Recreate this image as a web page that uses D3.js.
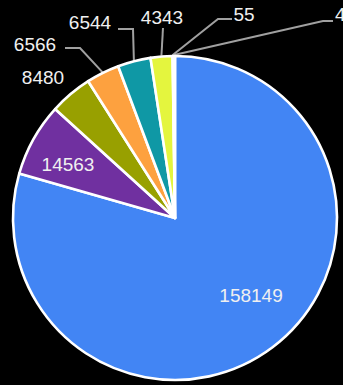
<!DOCTYPE html>
<html>
<head>
<meta charset="utf-8">
<script src="https://cdn.jsdelivr.net/npm/d3@7/dist/d3.min.js"></script>
<style>
  html, body { margin: 0; padding: 0; background: #000; overflow: hidden; }
  svg { display: block; }
</style>
</head>
<body>
<svg id="chart" width="343" height="385"></svg>
<script>
// Slice values, clockwise from 12 o'clock
const categories = ["A", "B", "C", "D", "E", "F", "G", "H"];
const values = [158149, 14563, 8480, 6566, 6544, 4343, 55, 412];
const labels = ["158149", "14563", "8480", "6566", "6544", "4343", "55", "412"];
const colors = ["#4285f4", "#7030a0", "#98a000", "#fda13f", "#0f98a5", "#e4f53e", "#b0b0b0", "#4285f4"];

// Label placement (pixels relative to the pie centre)
// inside: label sits on the slice at radius factor k
// outside: text centre (tx, ty), leader elbow (ex, ey), leader ends at lx next to the text
const labelLayout = [
  { inside: true, k: 0.67, ang: -0.13 },
  { inside: true, k: 0.74, ang: -0.04 },
  { tx: -132, ty: -141 },
  { tx: -140, ty: -174, ex: -95, ey: -170, lx: -110 },
  { tx: -85,  ty: -196, ex: -42, ey: -189, lx: -57 },
  { tx: -13,  ty: -201, ex: -12, ey: -190, lx: -12 },
  { tx: 69,   ty: -204, ex: 43,  ey: -199, lx: 57 },
  { tx: 160,  ty: -204, ex: 148, ey: -197, lx: 158, anchor: "start" }
];

const width = 343, height = 385;
const cx = 175, cy = 218, radius = 162;

const svg = d3.select("#chart");
svg.append("rect").attr("width", width).attr("height", height).attr("fill", "#000");

const g = svg.append("g").attr("transform", `translate(${cx},${cy})`);

const pie = d3.pie().sort(null).value(d => d.value);
const arcs = pie(values.map((v, i) => ({ value: v, cat: categories[i], label: labels[i], i })));

const arc = d3.arc().innerRadius(0).outerRadius(radius);

// Leader lines drawn first so slices sit over their ends
const leaderG = g.append("g");
arcs.forEach((a, i) => {
  const L = labelLayout[i];
  if (L.inside || L.ex === undefined) return;
  const mid = (a.startAngle + a.endAngle) / 2;
  const rx = Math.sin(mid) * (radius + 1);
  const ry = -Math.cos(mid) * (radius + 1);
  const path = d3.path();
  path.moveTo(rx, ry);
  path.lineTo(L.ex, L.ey);
  path.lineTo(L.lx, L.ey);
  leaderG.append("path")
    .attr("d", path.toString())
    .attr("fill", "none")
    .attr("stroke", "#a0a0a0")
    .attr("stroke-width", 2);
});

// Slices
g.append("g").selectAll("path")
  .data(arcs)
  .join("path")
  .attr("d", arc)
  .attr("fill", d => colors[d.data.i])
  .attr("stroke", "#fff")
  .attr("stroke-width", 2.6)
  .attr("stroke-linejoin", "round");

// Labels
const labelG = g.append("g")
  .attr("font-family", "'Liberation Sans', Arial, sans-serif")
  .attr("font-size", 19)
  .attr("fill", "#f0f0f0");

arcs.forEach((a, i) => {
  const L = labelLayout[i];
  let x, y, anchor = "middle";
  if (L.inside) {
    const mid = (a.startAngle + a.endAngle) / 2 + L.ang;
    x = Math.sin(mid) * radius * L.k;
    y = -Math.cos(mid) * radius * L.k;
  } else {
    x = L.tx; y = L.ty;
    if (L.anchor) anchor = L.anchor;
  }
  labelG.append("text")
    .attr("x", x)
    .attr("y", y)
    .attr("dy", "0.36em")
    .attr("text-anchor", anchor)
    .text(a.data.label);
});
</script>
</body>
</html>
